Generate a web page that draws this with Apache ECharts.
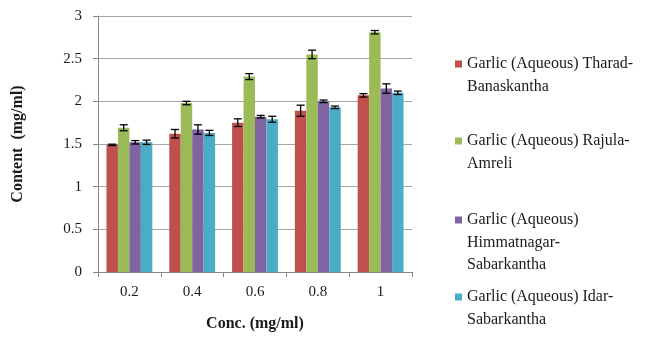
<!DOCTYPE html>
<html>
<head>
<meta charset="utf-8">
<script src="https://cdn.jsdelivr.net/npm/echarts@6/dist/echarts.min.js"></script>
<style>html,body{margin:0;padding:0;background:#fff}#c{width:671px;height:338px}</style>
</head>
<body>
<div id="c"></div>
<script>
var categories = ['0.2', '0.4', '0.6', '0.8', '1'];
var seriesNames = [
  'Garlic (Aqueous) Tharad-Banaskantha',
  'Garlic (Aqueous) Rajula-Amreli',
  'Garlic (Aqueous) Himmatnagar-Sabarkantha',
  'Garlic (Aqueous) Idar-Sabarkantha'
];
var legendLines = [
  ['Garlic (Aqueous) Tharad-', 'Banaskantha'],
  ['Garlic (Aqueous) Rajula-', 'Amreli'],
  ['Garlic (Aqueous)', 'Himmatnagar-', 'Sabarkantha'],
  ['Garlic (Aqueous) Idar-', 'Sabarkantha']
];
var tharad = [1.49, 1.62, 1.75, 1.89, 2.07];
var tharadErr = [0.008, 0.05, 0.045, 0.065, 0.02];
var rajula = [1.69, 1.98, 2.29, 2.55, 2.81];
var rajulaErr = [0.035, 0.02, 0.035, 0.05, 0.02];
var himmat = [1.52, 1.67, 1.82, 2.00, 2.15];
var himmatErr = [0.02, 0.055, 0.015, 0.015, 0.055];
var idar = [1.52, 1.63, 1.79, 1.93, 2.10];
var idarErr = [0.025, 0.03, 0.035, 0.015, 0.02];
var yTicks = [0, 0.5, 1, 1.5, 2, 2.5, 3];

var values = [tharad, rajula, himmat, idar];
var errors = [tharadErr, rajulaErr, himmatErr, idarErr];
var colors = ['#C0504D', '#9BBB59', '#8064A2', '#4BACC6'];
var catGap = 0.27;
var font = 'Liberation Serif';

var chart = echarts.init(document.getElementById('c'), null, {renderer: 'canvas'});

var series = [];
values.forEach(function (vals, i) {
  series.push({
    name: seriesNames[i],
    type: 'bar',
    data: vals,
    barGap: '0%',
    barCategoryGap: (catGap * 100) + '%',
    itemStyle: {color: colors[i]},
    emphasis: {disabled: true}
  });
});
values.forEach(function (vals, i) {
  series.push({
    type: 'custom',
    name: seriesNames[i] + ' err',
    z: 10,
    silent: true,
    data: vals.map(function (v, k) { return [k, v, errors[i][k]]; }),
    renderItem: function (params, api) {
      var k = api.value(0), v = api.value(1), e = api.value(2);
      var band = api.size([1, 0])[0];
      var bw = band * (1 - catGap) / 4;
      var off = (i - 1.5) * bw;
      var top = api.coord([k, v + e]);
      var bot = api.coord([k, v - e]);
      var x = top[0] + off;
      var hw = 4;
      var st = {stroke: '#000', lineWidth: 1.3};
      return {
        type: 'group',
        children: [
          {type: 'line', shape: {x1: x, y1: top[1], x2: x, y2: bot[1]}, style: st},
          {type: 'line', shape: {x1: x - hw, y1: top[1], x2: x + hw, y2: top[1]}, style: st},
          {type: 'line', shape: {x1: x - hw, y1: bot[1], x2: x + hw, y2: bot[1]}, style: st}
        ]
      };
    }
  });
});

var lh = 22.5;
var firstLineY = [64, 141, 220, 297];
var legends = seriesNames.map(function (nm, i) {
  var n = legendLines[i].length;
  var blanks = [];
  for (var b = 0; b < n - 1; b++) blanks.push(' ');
  var text = blanks.concat(legendLines[i]).join('\n');
  var top = firstLineY[i] - ((n - 1) * lh + lh / 2);
  return {
    data: [nm],
    orient: 'vertical',
    left: 455,
    top: top,
    padding: 0,
    itemWidth: 7,
    itemHeight: 7,
    icon: 'rect',
    selectedMode: false,
    formatter: function () { return text; },
    textStyle: {fontFamily: font, fontSize: 16, color: '#1a1a1a', lineHeight: lh}
  };
});

chart.setOption({
  animation: false,
  textStyle: {fontFamily: font},
  grid: {left: 98, right: 259, top: 16, bottom: 66, containLabel: false},
  legend: legends,
  xAxis: {
    type: 'category',
    data: categories,
    name: 'Conc. (mg/ml)',
    nameLocation: 'middle',
    nameGap: 44,
    nameTextStyle: {fontFamily: font, fontSize: 16, fontWeight: 'bold', color: '#1a1a1a'},
    axisLine: {lineStyle: {color: '#868686', width: 1}},
    axisTick: {show: true, length: 5, lineStyle: {color: '#868686'}},
    axisLabel: {fontFamily: font, fontSize: 15, color: '#1a1a1a', margin: 13}
  },
  yAxis: {
    type: 'value',
    min: 0,
    max: 3,
    interval: 0.5,
    name: 'Content  (mg/ml)',
    nameLocation: 'middle',
    nameGap: 72,
    nameRotate: 90,
    nameTextStyle: {fontFamily: font, fontSize: 16, fontWeight: 'bold', color: '#1a1a1a'},
    axisLine: {show: true, lineStyle: {color: '#868686', width: 1}},
    axisTick: {show: true, length: 5, lineStyle: {color: '#868686'}},
    axisLabel: {fontFamily: font, fontSize: 15, color: '#1a1a1a', margin: 16,
      formatter: function (v) { return yTicks.indexOf(v) >= 0 ? String(v) : ''; }},
    splitLine: {show: true, lineStyle: {color: '#A6A6A6', width: 1}}
  },
  series: series
});
</script>
</body>
</html>
